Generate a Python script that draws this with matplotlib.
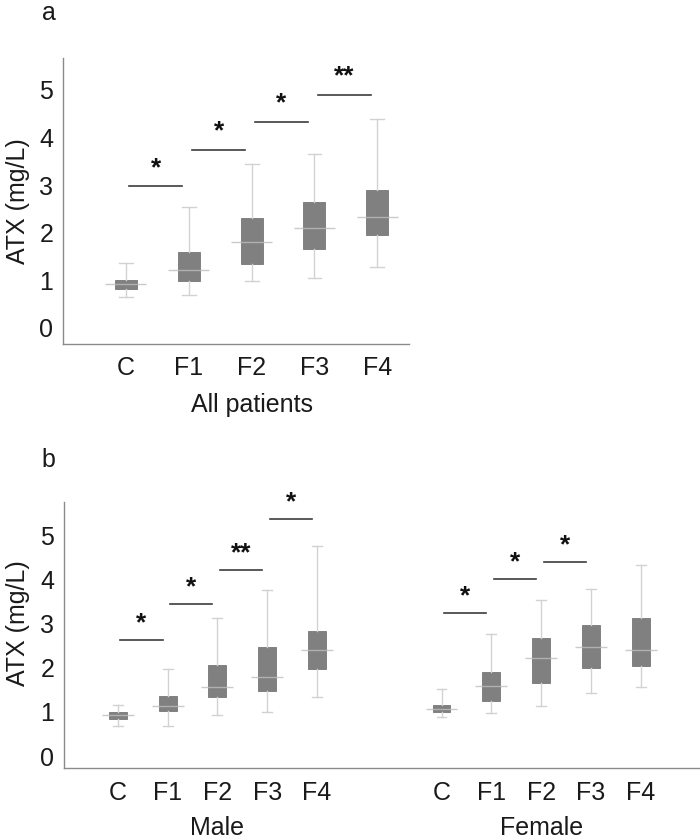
import numpy as np
import matplotlib.pyplot as plt

plt.rcParams['font.family'] = ['Liberation Sans', 'DejaVu Sans']

cats = ['C', 'F1', 'F2', 'F3', 'F4']

# all patients: whisker low, q1, median, q3, whisker high
all_lo = [0.65, 0.68, 0.98, 1.04, 1.28]
all_q1 = [0.81, 0.99, 1.35, 1.65, 1.94]
all_med = [0.91, 1.21, 1.80, 2.09, 2.32]
all_q3 = [1.00, 1.60, 2.31, 2.64, 2.90]
all_hi = [1.37, 2.53, 3.44, 3.66, 4.39]

male_lo = [0.68, 0.69, 0.94, 0.99, 1.34]
male_q1 = [0.84, 1.01, 1.33, 1.48, 1.98]
male_med = [0.94, 1.13, 1.57, 1.80, 2.41]
male_q3 = [1.00, 1.36, 2.07, 2.47, 2.84]
male_hi = [1.15, 1.98, 3.13, 3.75, 4.75]

fem_lo = [0.88, 0.97, 1.14, 1.43, 1.57]
fem_q1 = [1.00, 1.24, 1.65, 2.00, 2.04]
fem_med = [1.07, 1.58, 2.21, 2.47, 2.41]
fem_q3 = [1.15, 1.91, 2.68, 2.96, 3.12]
fem_hi = [1.51, 2.76, 3.54, 3.77, 4.32]

# significance bars (height, label) between neighbouring groups
all_sig_y = [2.97, 3.74, 4.32, 4.89]
all_sig = ['*', '*', '*', '**']
male_sig_y = [2.62, 3.44, 4.20, 5.36]
male_sig = ['*', '*', '**', '*']
fem_sig_y = [3.24, 4.00, 4.40]
fem_sig = ['*', '*', '*']

BOX = '#808080'
WHISK = '#d2d2d2'
BAR = '#3c3c3c'
TXT = '#1a1a1a'


def draw_group(ax, pos, lo, q1, med, q3, hi, bw, mw, cw):
    stats = []
    for i in range(len(pos)):
        stats.append({'whislo': lo[i], 'q1': q1[i], 'med': med[i],
                      'q3': q3[i], 'whishi': hi[i], 'fliers': []})
    ax.bxp(stats, positions=pos, widths=bw, capwidths=cw, patch_artist=True,
           showfliers=False,
           boxprops=dict(facecolor=BOX, edgecolor='#777777', linewidth=0.6),
           whiskerprops=dict(color=WHISK, linewidth=1.0),
           capprops=dict(color=WHISK, linewidth=1.0),
           medianprops=dict(linewidth=0))
    ax.hlines(med, np.array(pos) - mw / 2, np.array(pos) + mw / 2,
              colors='#bdbdbd', linewidth=1.0, alpha=0.8, zorder=3)


def draw_sig(ax, pos, ys, labels, off):
    for i in range(len(ys)):
        x0 = pos[i] + 0.05
        x1 = pos[i] + 0.9
        ax.plot([x0, x1], [ys[i], ys[i]], color=BAR, linewidth=1.2)
        ax.text((x0 + x1) / 2, ys[i] + off, labels[i], ha='center',
                va='baseline', fontsize=19, fontweight='bold', color='#111111')


def style(ax, lx, ly):
    for s in ['top', 'right']:
        ax.spines[s].set_visible(False)
    for s in ['left', 'bottom']:
        ax.spines[s].set_color('#8a8a8a')
        ax.spines[s].set_linewidth(1.0)
    ax.tick_params(length=0, labelsize=18, colors=TXT)
    ax.tick_params(axis='x', pad=9)
    ax.tick_params(axis='y', pad=7)
    ax.set_yticks([0, 1, 2, 3, 4, 5])
    ax.set_ylabel('ATX (mg/L)', fontsize=18, color=TXT)
    ax.yaxis.set_label_coords(lx, ly)


fig = plt.figure(figsize=(7, 8.4), dpi=100)

# panel a
ax1 = fig.add_axes([0.09, 0.5905, 0.494, 0.3405])
pos_a = [1, 2, 3, 4, 5]
draw_group(ax1, pos_a, all_lo, all_q1, all_med, all_q3, all_hi, 0.35, 0.65, 0.22)
draw_sig(ax1, pos_a, all_sig_y, all_sig, 0.24)
ax1.set_xlim(0, 5.5)
ax1.set_ylim(-0.34, 5.67)
style(ax1, -0.095, 0.5)
ax1.set_xticks(pos_a)
ax1.set_xticklabels(cats)
ax1.text(3.0, -0.238, 'All patients', transform=ax1.get_xaxis_transform(),
         ha='center', va='baseline', fontsize=18, color=TXT)
fig.text(0.07, 0.976, 'a', fontsize=18, ha='center', va='baseline', color=TXT)

# panel b
ax2 = fig.add_axes([0.0914, 0.0857, 0.9072, 0.3167])
pos_m = [1, 2, 3, 4, 5]
pos_f = [7.5, 8.5, 9.5, 10.5, 11.5]
draw_group(ax2, pos_m, male_lo, male_q1, male_med, male_q3, male_hi, 0.36, 0.64, 0.2)
draw_group(ax2, pos_f, fem_lo, fem_q1, fem_med, fem_q3, fem_hi, 0.36, 0.64, 0.2)
draw_sig(ax2, pos_m, male_sig_y, male_sig, 0.22)
draw_sig(ax2, pos_f, fem_sig_y, fem_sig, 0.22)
ax2.set_xlim(-0.08, 12.67)
ax2.set_ylim(-0.27, 5.75)
style(ax2, -0.0535, 0.545)
ax2.set_xticks(pos_m + pos_f)
ax2.set_xticklabels(cats + cats)
ax2.text(3, -0.25, 'Male', transform=ax2.get_xaxis_transform(), ha='center',
         va='baseline', fontsize=18, color=TXT)
ax2.text(9.5, -0.25, 'Female', transform=ax2.get_xaxis_transform(), ha='center',
         va='baseline', fontsize=18, color=TXT)
fig.text(0.069, 0.444, 'b', fontsize=18, ha='center', va='baseline', color=TXT)

fig.savefig('out.png', dpi=100)
